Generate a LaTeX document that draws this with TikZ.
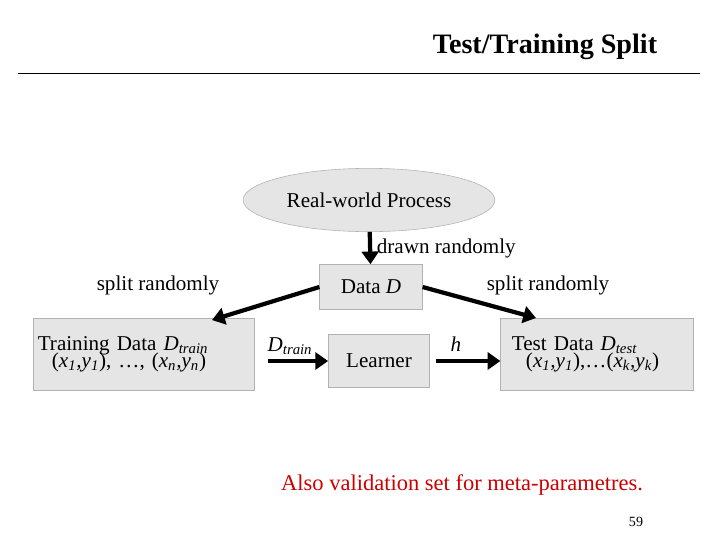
\documentclass[tikz,border=0pt]{standalone}
\usepackage{fontspec}
\setmainfont{Liberation Serif}
\usetikzlibrary{shapes.geometric,arrows.meta}
\begin{document}
\begin{tikzpicture}[x=0.025cm,y=-0.025cm,
    box/.style={draw=gray!60, fill=gray!20, inner sep=2pt, font=\fontsize{15}{16}\selectfont},
    bigarrow/.style={line width=3pt, -{Triangle[length=9pt,width=12pt]}},
    lbl/.style={font=\fontsize{15}{16}\selectfont}]
  \useasboundingbox (0,0) rectangle (720,540); % page size
  \node[font=\bfseries\fontsize{20}{22}\selectfont] (title) at (545,47) {Test/Training Split};
  \draw (18,73)--(700,73);

  \node[ellipse, box, minimum width=179pt, minimum height=45pt] (proc) at (369,200) {Real-world Process};
  \node[box, minimum width=73pt, minimum height=32pt] (data) at (371,287) {Data \textit{D}};
  \node[box, minimum width=157pt, minimum height=51pt, text width=151pt, align=left] (train) at (144,354)
    {Training Data \textit{D\textsubscript{train}}\\[-4pt] \ \ (\textit{x\textsubscript{1},y\textsubscript{1}}), …, (\textit{x\textsubscript{n},y\textsubscript{n}})\\[2pt]};
  \node[box, minimum width=72pt, minimum height=38pt] (learner) at (379,361) {Learner};
  \node[box, minimum width=137pt, minimum height=51pt, text width=131pt, align=left] (test) at (597,354)
    {\ Test Data \textit{D\textsubscript{test}}\\[-4pt] \ \ \ (\textit{x\textsubscript{1},y\textsubscript{1}}),…(\textit{x\textsubscript{k},y\textsubscript{k}})\\[2pt]};
  \coordinate (tl) at (212,320);
  \coordinate (tr) at (536,318);
  \coordinate (tin) at (268,361);
  \coordinate (hout) at (436,361);

  \draw[bigarrow] (proc) -- (data) node[lbl, midway, right] {drawn randomly};
  \draw[bigarrow] (data.west) -- (tl);
  \draw[bigarrow] (data.east) -- (tr);
  \node[lbl] (splitl) at (158,285) {split randomly};
  \node[lbl] (splitr) at (548,285) {split randomly};
  \draw[bigarrow] (tin) -- (learner.west);
  \node[lbl] (dtrain) at (290,346) {\textit{D\textsubscript{train}}};
  \draw[bigarrow] (hout) -- (test.west|-hout);
  \node[lbl] (hlbl) at (456,344) {\textit{h}};
  \node[font=\fontsize{16}{17}\selectfont, text=red!80!black] (note) at (462,485) {Also validation set for meta-parametres.};
  \node[font=\fontsize{10}{11}\selectfont] (page) at (636,522) {59};
\end{tikzpicture}
\end{document}
